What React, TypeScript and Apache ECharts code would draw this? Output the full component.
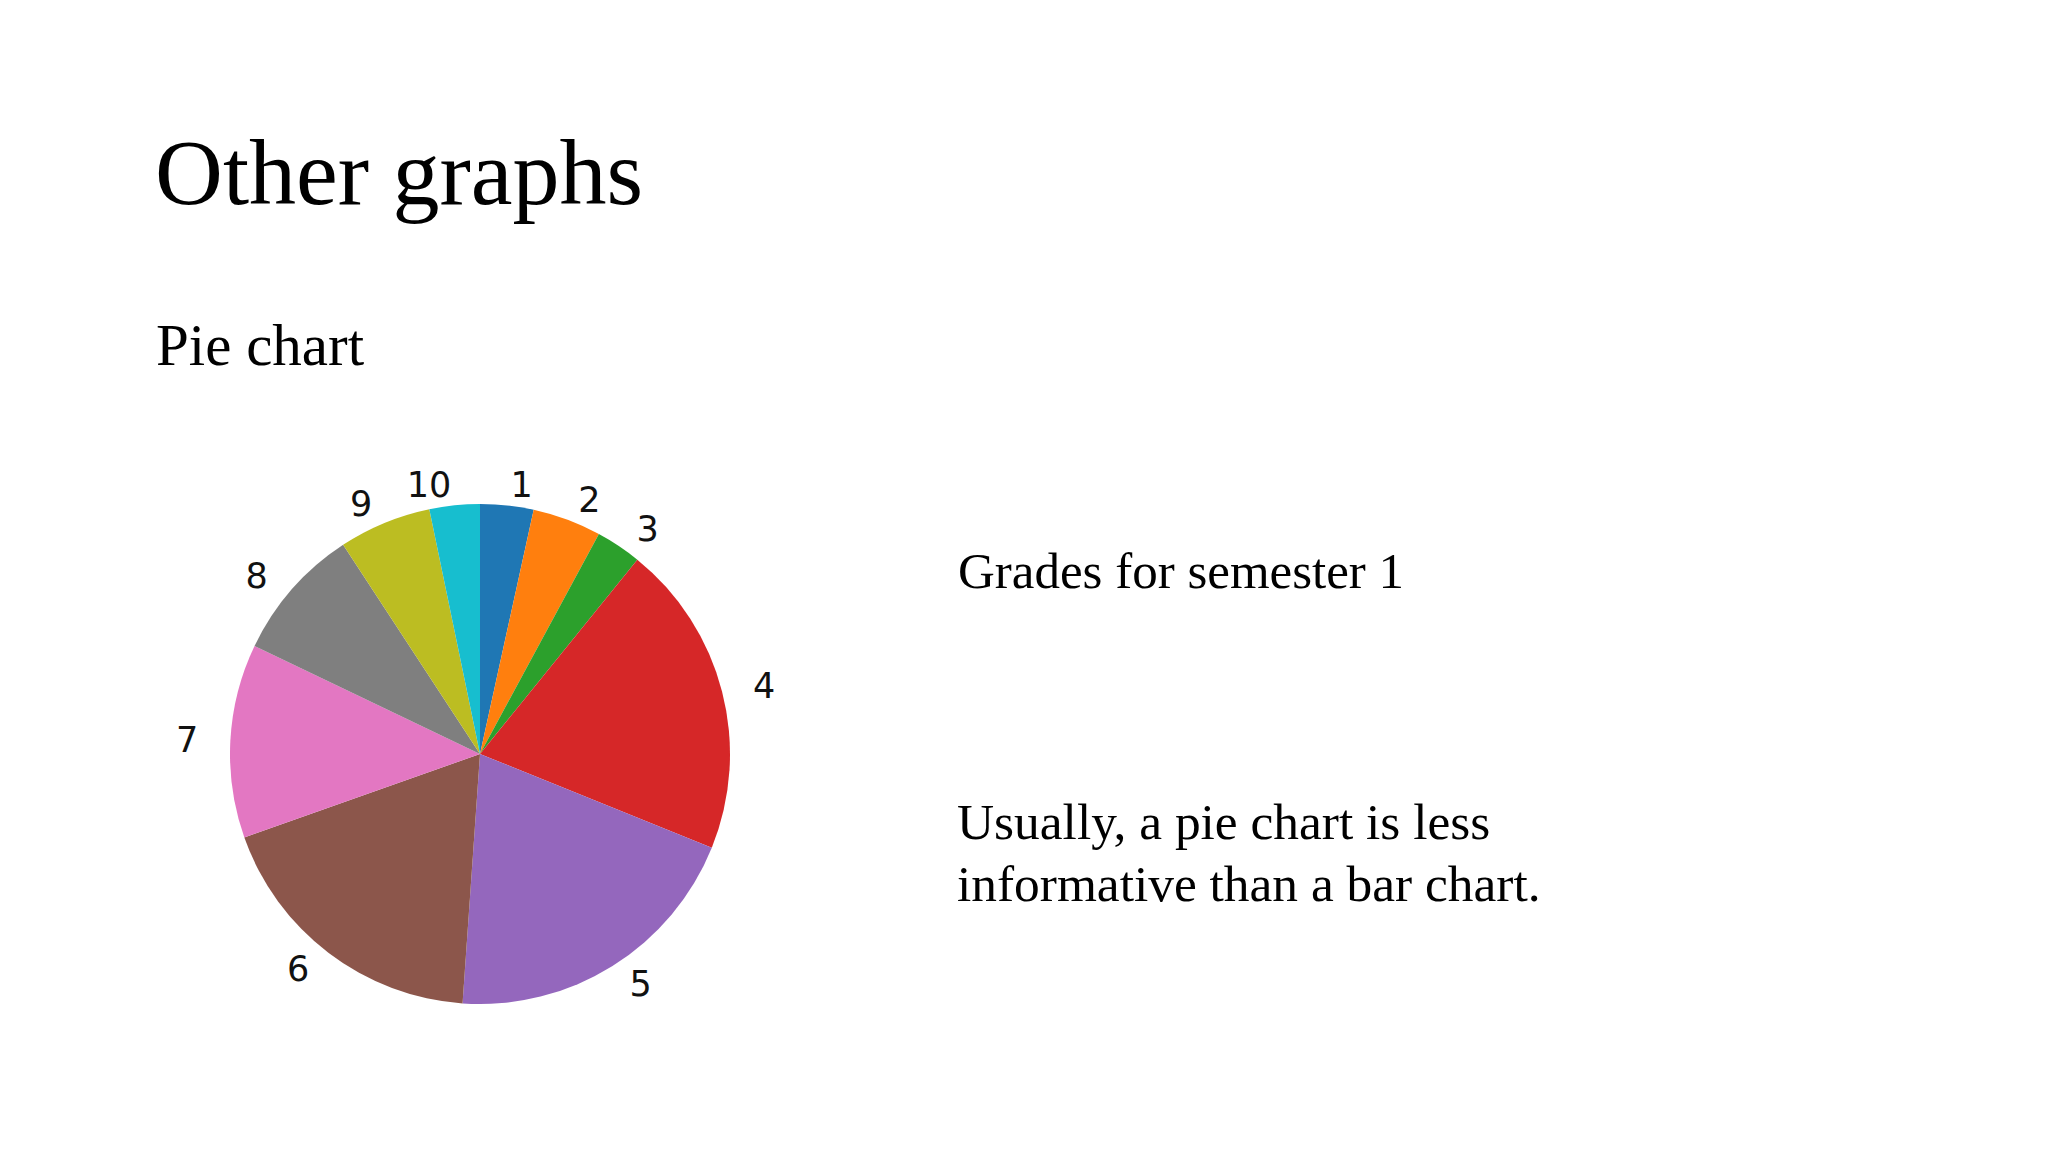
import React, { useEffect, useRef } from "react";
import * as echarts from "echarts";

// ---- data ----
const titleText = "Other graphs";
const subtitleText = "Pie chart";
const captionText = "Grades for semester 1";
const noteLines = ["Usually, a pie chart is less", "informative than a bar chart."];

const grades = ["1", "2", "3", "4", "5", "6", "7", "8", "9", "10"];
// relative size of each grade's slice (read as angle in degrees)
const gradeShares = [12.4, 16.0, 10.6, 73.0, 72.0, 66.5, 45.1, 31.2, 21.5, 11.7];
const sliceColors = [
  "#1f77b4", "#ff7f0e", "#2ca02c", "#d62728", "#9467bd",
  "#8c564b", "#e377c2", "#7f7f7f", "#bcbd22", "#17becf",
];

const CX = 480;
const CY = 754;
const R = 250;

export default function App() {
  const ref = useRef<HTMLDivElement>(null);

  useEffect(() => {
    if (!ref.current) return;
    const chart = echarts.init(ref.current, undefined, { renderer: "svg" });
    const serif = '"Liberation Serif", "Times New Roman", serif';
    const txt = (text: string, x: number, y: number, size: number) => ({
      type: "text",
      x,
      y,
      silent: true,
      style: {
        text,
        fontSize: size,
        fontFamily: serif,
        fill: "#000",
        align: "left",
        textAlign: "left",
        verticalAlign: "middle",
        textVerticalAlign: "middle",
      },
    });
    chart.setOption({
      animation: false,
      backgroundColor: "#ffffff",
      graphic: [
        txt(titleText, 155, 172, 94),
        txt(subtitleText, 156, 345, 59),
        txt(captionText, 958, 571, 51),
        txt(noteLines[0], 957, 821, 51.4),
        txt(noteLines[1], 957, 883, 51.4),
      ],
      series: [
        {
          type: "pie",
          center: [CX, CY],
          radius: R,
          startAngle: 90,
          clockwise: true,
          avoidLabelOverlap: false,
          silent: true,
          itemStyle: { borderWidth: 0 },
          emphasis: { disabled: true },
          label: {
            show: true,
            position: "outside",
            formatter: "{b}",
            fontFamily: '"DejaVu Sans", sans-serif',
            fontSize: 35,
            color: "#111",
            distanceToLabelLine: 0,
          },
          labelLine: { show: false, length: 32, length2: 0 },
          labelLayout: (p: any) => {
            const cy = p.labelRect.y + p.labelRect.height / 2;
            return { dy: -(cy - CY) * 0.04 };
          },
          data: grades.map((g, i) => ({
            name: g,
            value: gradeShares[i],
            itemStyle: { color: sliceColors[i] },
          })),
        },
      ],
    });
    return () => chart.dispose();
  }, []);

  return (
    <div
      ref={ref}
      style={{
        position: "absolute",
        left: 0,
        top: 0,
        width: 2048,
        height: 1152,
        background: "#fff",
      }}
    />
  );
}
